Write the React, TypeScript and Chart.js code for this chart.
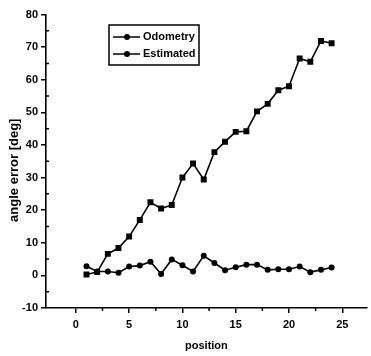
import React, { useEffect, useRef } from "react";
import { Chart, registerables } from "chart.js";

Chart.register(...registerables);

const positions = [1, 2, 3, 4, 5, 6, 7, 8, 9, 10, 11, 12, 13, 14, 15, 16, 17, 18, 19, 20, 21, 22, 23, 24];
const odometry = [0.3, 1.0, 6.6, 8.4, 11.9, 17.0, 22.4, 20.5, 21.6, 30.0, 34.3, 29.4, 37.8, 41.0, 44.0, 44.2, 50.3, 52.6, 56.8, 58.0, 66.5, 65.5, 71.9, 71.2];
const estimated = [2.8, 1.2, 1.2, 0.8, 2.7, 3.0, 4.2, 0.4, 4.9, 3.1, 1.2, 6.0, 3.8, 1.6, 2.5, 3.3, 3.3, 1.7, 1.9, 1.9, 2.7, 1.0, 1.7, 2.4];
const xTicks = [0, 5, 10, 15, 20, 25];
const yTicks = [-10, 0, 10, 20, 30, 40, 50, 60, 70, 80];
const xMinorTicks = [2.5, 7.5, 12.5, 17.5, 22.5];
const yMinorTicks = [-5, 5, 15, 25, 35, 45, 55, 65, 75];
const seriesNames = ["Odometry", "Estimated"];
const xTitle = "position";
const yTitle = "angle error [deg]";

const FONT = "'Liberation Sans', Arial, sans-serif";

const minorTickPlugin = {
  id: "minorTicks",
  afterDraw(chart: any) {
    const ctx = chart.ctx;
    const x = chart.scales.x;
    const y = chart.scales.y;
    const area = chart.chartArea;
    ctx.save();
    ctx.strokeStyle = "#000";
    ctx.lineWidth = 1.5;
    ctx.beginPath();
    for (const v of yMinorTicks) {
      const py = y.getPixelForValue(v);
      ctx.moveTo(area.left, py);
      ctx.lineTo(area.left + 3, py);
    }
    for (const v of xMinorTicks) {
      const px = x.getPixelForValue(v);
      ctx.moveTo(px, area.bottom);
      ctx.lineTo(px, area.bottom + 3);
    }
    ctx.stroke();
    // y-axis title
    ctx.translate(14, (area.top + area.bottom) / 2 + 9);
    ctx.rotate(-Math.PI / 2);
    ctx.fillStyle = "#000";
    ctx.font = "bold 13px " + FONT;
    ctx.textAlign = "center";
    ctx.textBaseline = "middle";
    ctx.fillText(yTitle, 0, 0);
    ctx.restore();
  },
};

const legendPlugin = {
  id: "boxLegend",
  afterDraw(chart: any) {
    const ctx = chart.ctx;
    const area = chart.chartArea;
    const bx = area.left + 63;
    const by = 25;
    const bw = 90;
    const bh = 40;
    ctx.save();
    ctx.fillStyle = "#fff";
    ctx.fillRect(bx, by, bw, bh);
    ctx.strokeStyle = "#000";
    ctx.lineWidth = 1.5;
    ctx.strokeRect(bx, by, bw, bh);
    ctx.font = "bold 11px " + FONT;
    ctx.textBaseline = "middle";
    ctx.fillStyle = "#000";
    seriesNames.forEach((name, i) => {
      const ly = by + 12 + i * 17;
      ctx.beginPath();
      ctx.moveTo(bx + 4, ly);
      ctx.lineTo(bx + 31, ly);
      ctx.stroke();
      ctx.beginPath();
      ctx.arc(bx + 18, ly, 3, 0, Math.PI * 2);
      ctx.fill();
      ctx.fillText(name, bx + 34, ly);
    });
    ctx.restore();
  },
};

export default function App() {
  const ref = useRef<HTMLCanvasElement>(null);
  useEffect(() => {
    if (!ref.current) return;
    const chart = new Chart(ref.current, {
      type: "line",
      data: {
        datasets: [
          {
            label: seriesNames[0],
            data: positions.map((p, i) => ({ x: p, y: odometry[i] })),
            borderColor: "#000",
            backgroundColor: "#000",
            borderWidth: 1.6,
            pointStyle: "rect",
            pointRadius: 4.2,
            pointBorderWidth: 0,
            tension: 0,
          },
          {
            label: seriesNames[1],
            data: positions.map((p, i) => ({ x: p, y: estimated[i] })),
            borderColor: "#000",
            backgroundColor: "#000",
            borderWidth: 1.6,
            pointStyle: "circle",
            pointRadius: 3,
            pointBorderWidth: 0,
            tension: 0,
          },
        ],
      },
      options: {
        animation: false,
        responsive: true,
        maintainAspectRatio: false,
        layout: { padding: { top: 14.5, right: 0, left: 0, bottom: 0 } },
        plugins: { legend: { display: false }, tooltip: { enabled: false } },
        scales: {
          x: {
            type: "linear",
            min: -2.8,
            max: 27.3,
            afterBuildTicks: (s: any) => {
              s.ticks = xTicks.map((v) => ({ value: v }));
            },
            afterFit: (s: any) => {
              s.height = 48;
            },
            grid: { drawOnChartArea: false, drawTicks: true, tickLength: 5, color: "#000", lineWidth: 1.5 },
            border: { display: true, color: "#000", width: 1.6 },
            ticks: { color: "#000", font: { family: FONT, size: 11, weight: "bold" }, padding: 5, maxRotation: 0 },
            title: {
              display: true,
              text: xTitle,
              color: "#000",
              font: { family: FONT, size: 11, weight: "bold" },
              padding: { top: 0, bottom: 3 },
            },
          },
          y: {
            type: "linear",
            min: -10,
            max: 80,
            afterBuildTicks: (s: any) => {
              s.ticks = yTicks.map((v) => ({ value: v }));
            },
            afterFit: (s: any) => {
              s.width = 46;
            },
            grid: { drawOnChartArea: false, drawTicks: true, tickLength: 5, color: "#000", lineWidth: 1.5 },
            border: { display: true, color: "#000", width: 1.6 },
            ticks: { color: "#000", font: { family: FONT, size: 11, weight: "bold" }, padding: 3 },
            title: { display: false },
          },
        },
      },
      plugins: [minorTickPlugin, legendPlugin],
    });
    return () => chart.destroy();
  }, []);
  return (
    <div style={{ position: "absolute", left: 0, top: 0, width: 371, height: 356, background: "#fff" }}>
      <canvas ref={ref} />
    </div>
  );
}
